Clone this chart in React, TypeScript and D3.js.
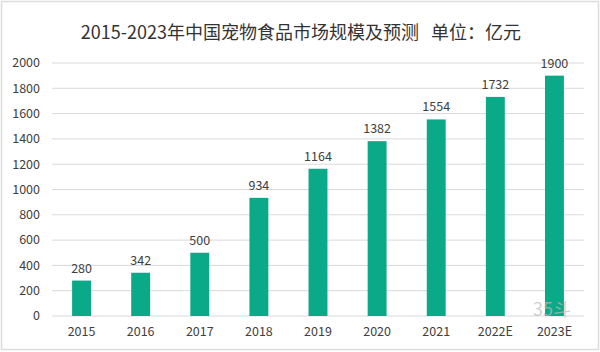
import React, { useEffect, useRef } from "react";
import * as d3 from "d3";

// 2015-2023 China pet food market size (100M yuan)
const years = ["2015", "2016", "2017", "2018", "2019", "2020", "2021", "2022E", "2023E"];
const marketSize = [280, 342, 500, 934, 1164, 1382, 1554, 1732, 1900];
const yTicks = [0, 200, 400, 600, 800, 1000, 1200, 1400, 1600, 1800, 2000];
const title = "2015-2023年中国宠物食品市场规模及预测   单位：亿元";

const W = 600;
const H = 352;

const App = () => {
  const ref = useRef<SVGSVGElement | null>(null);

  useEffect(() => {
    const svg = d3.select(ref.current);
    svg.selectAll("*").remove();

    const margin = { top: 63, right: 16, bottom: 36, left: 52 };
    const fontFamily = "'Noto Sans CJK SC', 'Noto Sans', sans-serif";

    // frame
    svg.append("rect")
      .attr("x", 1.5).attr("y", 1.5)
      .attr("width", W - 3).attr("height", H - 4)
      .attr("fill", "#fff")
      .attr("stroke", "#dcdcdc")
      .attr("stroke-width", 1.5);

    const x = d3.scaleBand<string>()
      .domain(years)
      .range([margin.left, W - margin.right])
      .paddingInner(0.68)
      .paddingOuter(0.34);

    const y = d3.scaleLinear()
      .domain([0, 2000])
      .range([H - margin.bottom, margin.top]);

    // title
    svg.append("text")
      .attr("x", 301)
      .attr("y", 39)
      .attr("text-anchor", "middle")
      .attr("font-family", fontFamily)
      .attr("font-size", 18)
      .attr("fill", "#333")
      .style("white-space", "pre")
      .text(title);

    // gridlines
    svg.append("g")
      .selectAll("line")
      .data(yTicks)
      .enter()
      .append("line")
      .attr("x1", margin.left)
      .attr("x2", W - margin.right)
      .attr("y1", (d) => y(d))
      .attr("y2", (d) => y(d))
      .attr("stroke", "#d9d9d9")
      .attr("stroke-width", 1);

    // y axis labels
    svg.append("g")
      .selectAll("text")
      .data(yTicks)
      .enter()
      .append("text")
      .attr("x", 40)
      .attr("y", (d) => y(d))
      .attr("dy", "0.35em")
      .attr("text-anchor", "end")
      .attr("font-family", fontFamily)
      .attr("font-size", 12.5)
      .attr("fill", "#404040")
      .text((d) => d);

    // bars
    svg.append("g")
      .selectAll("rect")
      .data(marketSize)
      .enter()
      .append("rect")
      .attr("x", (d, i) => x(years[i]) as number)
      .attr("y", (d) => y(d))
      .attr("width", x.bandwidth())
      .attr("height", (d) => y(0) - y(d))
      .attr("fill", "#0aa987");

    // value labels
    svg.append("g")
      .selectAll("text")
      .data(marketSize)
      .enter()
      .append("text")
      .attr("x", (d, i) => (x(years[i]) as number) + x.bandwidth() / 2)
      .attr("y", (d) => y(d) - 8)
      .attr("text-anchor", "middle")
      .attr("font-family", fontFamily)
      .attr("font-size", 12.5)
      .attr("fill", "#404040")
      .text((d) => d);

    // x axis labels
    svg.append("g")
      .selectAll("text")
      .data(years)
      .enter()
      .append("text")
      .attr("x", (d) => (x(d) as number) + x.bandwidth() / 2)
      .attr("y", 336)
      .attr("text-anchor", "middle")
      .attr("font-family", fontFamily)
      .attr("font-size", 12.5)
      .attr("fill", "#404040")
      .text((d) => d);

    // faint watermark
    svg.append("text")
      .attr("x", 552)
      .attr("y", 316)
      .attr("text-anchor", "middle")
      .attr("font-family", fontFamily)
      .attr("font-size", 18)
      .attr("fill", "#bbb")
      .attr("opacity", 0.7)
      .text("35斗");
  }, []);

  return (
    <svg
      ref={ref}
      width={W}
      height={H}
      style={{ position: "absolute", left: 0, top: 0, background: "#fff" }}
    />
  );
};

export default App;
